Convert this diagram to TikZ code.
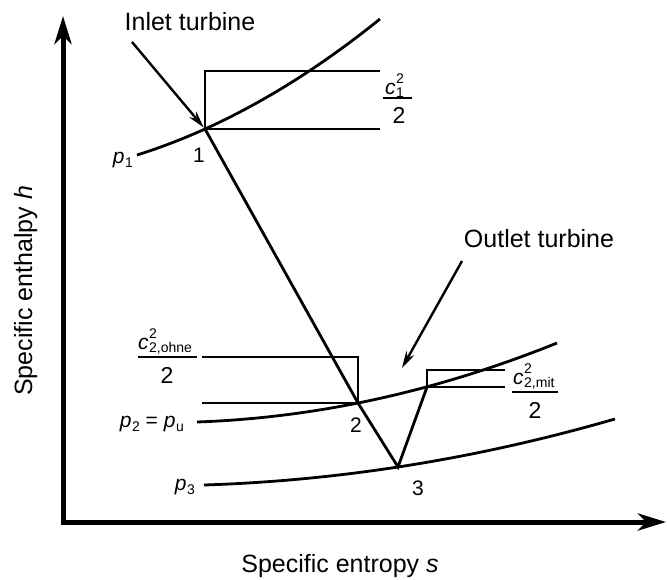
\documentclass[tikz,border=0pt]{standalone}
\usepackage{fontspec}
\setmainfont{Liberation Sans}
\usetikzlibrary{arrows.meta}
\newcommand{\sbs}[1]{{\fontsize{14}{14}\selectfont #1}}
\newcommand{\csq}[1]{\textit{c}\kern0.5pt\rlap{\raisebox{11pt}{\sbs{2}}}\raisebox{-3pt}{\sbs{#1}}}
\newcommand{\pp}[1]{\textit{p}\kern0.5pt\raisebox{-4pt}{\sbs{#1}}}
\begin{document}
\begin{tikzpicture}[x=1pt,y=-1pt,
  axisline/.style={line width=5pt,line cap=rect,-{Stealth[length=28pt,width=17pt,inset=8pt]}},
  isobar/.style={line width=2.8pt},
  proc/.style={line width=2.8pt,line join=miter},
  guide/.style={line width=1.8pt},
  annot/.style={line width=2.4pt,-{Stealth[length=17pt,width=9pt]}},
  ttl/.style={font=\fontsize{25}{30}\selectfont,inner sep=0pt},
  lbl/.style={font=\fontsize{21}{25}\selectfont,inner sep=0pt},
  den/.style={font=\fontsize{23}{27}\selectfont,inner sep=0pt},
  fbar/.style={line width=1.5pt}]
\useasboundingbox (0,0) rectangle (667,579);
% axes
\coordinate (O) at (63,522);
\coordinate (ytip) at (63,16);
\coordinate (xtip) at (666,522);
\draw[axisline] (O) -- (ytip);
\draw[axisline] (O) -- (xtip);
% isobars
\draw[isobar] plot[domain=137:380,samples=60] (\x,{155-0.3135*(\x-137)-10.13*((\x-137)/100)^2});
\draw[isobar] plot[domain=197:557,samples=60] (\x,{422-0.0359*(\x-197)-5.098*((\x-197)/100)^2});
\draw[isobar] plot[domain=204:615,samples=60] (\x,{485-0.0322*(\x-204)-3.125*((\x-204)/100)^2});
% state points
\coordinate (P1) at (205,129);
\coordinate (P2) at (358,403);
\coordinate (P3) at (398,467);
\coordinate (P4) at (427,387);
\draw[proc] (P1) -- (P2) -- (P3) -- (P4);
% kinetic energy boxes
\coordinate (B1t) at (205,71);
\coordinate (B1r) at (380,71);
\coordinate (B1b) at (380,129);
\draw[guide] (P1) -- (B1t) -- (B1r);
\draw[guide] (P1) -- (B1b);
\coordinate (B2t) at (358,357);
\coordinate (B2l) at (202,357);
\coordinate (B2b) at (202,403);
\draw[guide] (P2) -- (B2t) -- (B2l);
\draw[guide] (P2) -- (B2b);
\coordinate (B3t) at (427,370);
\coordinate (B3r) at (505,370);
\coordinate (B3b) at (505,387);
\draw[guide] (P4) -- (B3t) -- (B3r);
\draw[guide] (P4) -- (B3b);
% annotations
\node[ttl,anchor=base] (inlet) at (190,30) {Inlet turbine};
\coordinate (ia) at (132,42);
\draw[annot,shorten >=2pt] (ia) -- (P1);
\node[ttl,anchor=base] (outlet) at (539,247) {Outlet turbine};
\coordinate (oa) at (462,261);
\coordinate (ob) at (402,368);
\draw[annot] (oa) -- (ob);
% labels
\node[lbl,anchor=base] (l1) at (199,162) {1};
\node[lbl,anchor=base] (l2) at (356,432) {2};
\node[lbl,anchor=base] (l3) at (418,495) {3};
\node[lbl,anchor=base east] (lp1) at (133,163) {\pp{1}};
\node[lbl,anchor=base east] (lp2) at (184,427) {\pp{2} = \pp{u}};
\node[lbl,anchor=base east] (lp3) at (195,490) {\pp{3}};
% fractions
\coordinate (f1a) at (383,98);
\coordinate (f1b) at (412,98);
\draw[fbar] (f1a) -- (f1b);
\node[lbl,anchor=base west] (n1) at (385,94) {\csq{1}};
\node[den,anchor=base] (d1) at (399,123) {2};
\coordinate (f2a) at (138,357);
\coordinate (f2b) at (197,357);
\draw[fbar] (f2a) -- (f2b);
\node[lbl,anchor=base west] (n2) at (138,349) {\csq{2,ohne}};
\node[den,anchor=base] (d2) at (167,383) {2};
\coordinate (f3a) at (512,392);
\coordinate (f3b) at (558,392);
\draw[fbar] (f3a) -- (f3b);
\node[lbl,anchor=base west] (n3) at (513,384) {\csq{2,mit}};
\node[den,anchor=base] (d3) at (535,418) {2};
% axis titles
\node[ttl,anchor=base,rotate=90] (ylab) at (32,291) {Specific enthalpy \textit{h}};
\node[ttl,anchor=base] (xlab) at (340,572) {Specific entropy \textit{s}};
\end{tikzpicture}
\end{document}
